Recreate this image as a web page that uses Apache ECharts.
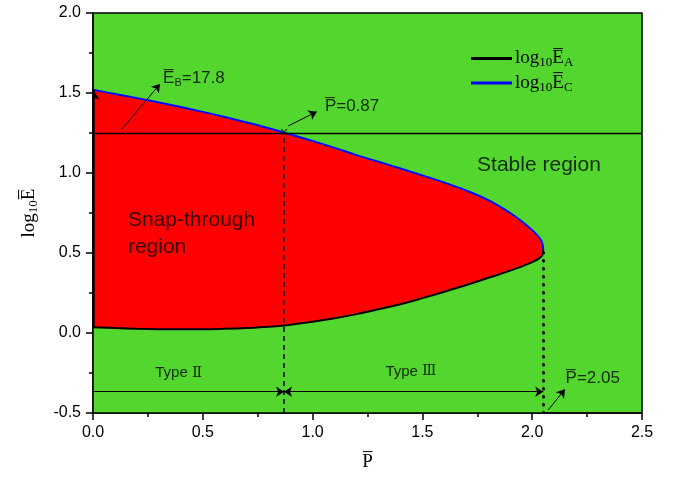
<!DOCTYPE html>
<html>
<head>
<meta charset="utf-8">
<script src="https://cdn.jsdelivr.net/npm/echarts@6/dist/echarts.min.js"></script>
<style>
html, body { margin: 0; padding: 0; background: #fff; }
#grafico { width: 675px; height: 479px; }
</style>
</head>
<body>
<div id="grafico"></div>
<script>
// curve log10 E_A (lower, black)
var pA = [0, 0.1, 0.2, 0.3, 0.4, 0.5, 0.6, 0.7, 0.8, 0.9, 1.0, 1.1, 1.2, 1.3, 1.4, 1.5, 1.6, 1.7, 1.8, 1.9, 1.95, 2.0, 2.03, 2.045, 2.05];
var eA = [0.036, 0.031, 0.027, 0.024, 0.023, 0.023, 0.026, 0.031, 0.039, 0.052, 0.070, 0.092, 0.118, 0.148, 0.180, 0.218, 0.258, 0.300, 0.345, 0.390, 0.415, 0.443, 0.465, 0.485, 0.52];
// curve log10 E_C (upper, blue)
var pC = [0, 0.1, 0.2, 0.3, 0.4, 0.5, 0.6, 0.7, 0.8, 0.9, 1.0, 1.1, 1.2, 1.3, 1.4, 1.5, 1.6, 1.7, 1.8, 1.9, 1.95, 2.0, 2.03, 2.045, 2.05];
var eC = [1.520, 1.494, 1.468, 1.441, 1.412, 1.382, 1.350, 1.316, 1.280, 1.241, 1.200, 1.157, 1.112, 1.070, 1.028, 0.985, 0.940, 0.890, 0.830, 0.750, 0.700, 0.643, 0.600, 0.565, 0.52];
// special values
var pCross = 0.87, eCross = 1.25, pTip = 2.05, eTip = 0.52;

var myChart = echarts.init(document.getElementById('grafico'));

function zip(xs, ys) {
  return xs.map(function (x, i) { return [x, ys[i]]; });
}

var sans = 'Arial';
var serif = 'Times New Roman';
var richText = {
  o: { fontFamily: sans, fontSize: 17, color: '#000', lineHeight: 22 },
  s: { fontFamily: sans, fontSize: 11, color: '#000', lineHeight: 11, verticalAlign: 'bottom' },
  big: { fontFamily: sans, fontSize: 21, color: '#000', lineHeight: 27 },
  t: { fontFamily: sans, fontSize: 15, color: '#000' },
  r: { fontFamily: 'DejaVu Serif', fontSize: 15, color: '#000' }
};
var richSerif = {
  n: { fontFamily: serif, fontSize: 19, color: '#000', lineHeight: 22 },
  s: { fontFamily: serif, fontSize: 13, color: '#000', lineHeight: 12, verticalAlign: 'bottom' }
};

function note(x, y, text, pos) {
  return { value: [x, y], label: { formatter: text, position: pos || 'right' } };
}

function axis(extra) {
  var a = {
    type: 'value', z: 10,
    nameLocation: 'middle',
    nameTextStyle: { rich: richSerif },
    axisLine: { show: true, onZero: false, lineStyle: { color: '#000', width: 1.5 } },
    axisTick: { show: true, inside: false, length: 7, lineStyle: { color: '#000', width: 1.5 } },
    minorTick: { show: true, splitNumber: 2, length: 4, lineStyle: { color: '#000', width: 1.5 } },
    axisLabel: { margin: 12, fontFamily: sans, fontSize: 16, color: '#000',
      formatter: function (v) { return v.toFixed(1); } },
    splitLine: { show: false }
  };
  return Object.assign(a, extra);
}

option = {
  animation: false,
  grid: {
    left: 93, right: 33, top: 13, bottom: 66,
    show: true, backgroundColor: '#53D62E', borderColor: '#000', borderWidth: 1.5
  },
  legend: {
    orient: 'vertical', left: 466, top: 44,
    itemWidth: 41, itemHeight: 3, itemGap: 4, icon: 'rect',
    data: ['EA', 'EC'],
    formatter: function (name) {
      return '{n|log}{s|10}{n|E\u0305}{s|' + (name === 'EA' ? 'A' : 'C') + '}';
    },
    textStyle: { rich: richSerif, padding: [0, 0, 0, -2] }
  },
  xAxis: axis({ min: 0, max: 2.5, interval: 0.5, name: '{n|P\u0305}', nameGap: 38 }),
  yAxis: axis({ min: -0.5, max: 2.0, interval: 0.5, name: '{n|log}{s|10}{n|E\u0305}',
    nameGap: 53, nameRotate: 90 }),
  series: [
    {
      name: 'EC', type: 'line', data: zip(pC, eC), symbol: 'none',
      smooth: 0.4,
      lineStyle: { color: '#0000FF', width: 2 }, itemStyle: { color: '#0000FF' },
      areaStyle: { color: '#FF0000', opacity: 1, origin: 'start' }, z: 2
    },
    {
      name: 'EA', type: 'line', data: zip(pA, eA), symbol: 'none',
      smooth: 0.4,
      lineStyle: { color: '#000', width: 2 }, itemStyle: { color: '#000' },
      areaStyle: { color: '#53D62E', opacity: 1, origin: 'start' }, z: 3,
      markLine: {
        silent: true, symbol: 'none', label: { show: false },
        lineStyle: { color: '#000', width: 1.3, type: 'solid' },
        data: [{ yAxis: eCross }]
      }
    },
    {
      type: 'lines', coordinateSystem: 'cartesian2d', z: 4, silent: true,
      symbol: ['none', 'arrow'], symbolSize: 8,
      lineStyle: { color: '#000', width: 1, opacity: 1 },
      data: [
        { coords: [[0.132, 1.275], [0.305, 1.556]] },
        { coords: [[0.889, 1.294], [1.019, 1.383]] },
        { coords: [[2.073, -0.481], [2.149, -0.352]] },
        { coords: [[0, -0.367], [pCross, -0.367]] },
        { coords: [[pCross, -0.367], [pTip, -0.367]], symbol: ['arrow', 'arrow'] },
        { coords: [[0, eA[0]], [0, eC[0]]], lineStyle: { width: 2.5 }, symbolSize: 10 },
        { coords: [[pCross, -0.5], [pCross, eCross]], symbol: ['none', 'none'],
          lineStyle: { type: [5, 4], width: 1.5 } },
        { coords: [[pTip, -0.5], [pTip, eTip]], symbol: ['none', 'none'],
          lineStyle: { type: [0.5, 7.5], width: 3, cap: 'round' } }
      ]
    },
    {
      type: 'scatter', symbolSize: 0, z: 5, silent: true,
      label: { show: true, distance: 0, rich: richText, color: '#000' },
      data: [
        note(0.319, 1.594, '{o|E\u0305}{s|B}{o|=17.8}'),
        note(1.056, 1.419, '{o|P\u0305=0.87}'),
        note(2.152, -0.283, '{o|P\u0305=2.05}'),
        note(0.159, 0.622, '{big|Snap-through}\n{big|region}'),
        note(1.749, 1.05, '{big|Stable region}'),
        note(0.39, -0.25, '{t|Type }{r|\u2161}', 'inside'),
        note(1.448, -0.24, '{t|Type }{r|\u2162}', 'inside'),
        note(pCross, eCross, '{t|\u00d7}', 'inside')
      ]
    }
  ]
};

option && myChart.setOption(option);
</script>
</body>
</html>
